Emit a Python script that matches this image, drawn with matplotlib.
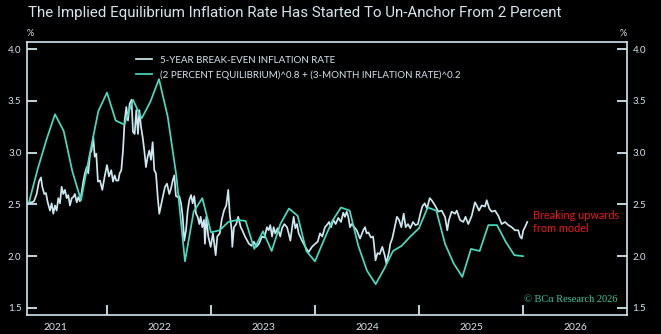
import matplotlib
matplotlib.use("Agg")
import matplotlib.pyplot as plt
from matplotlib.ticker import FixedLocator, NullFormatter, FixedFormatter
import pandas as pd

BG = "black"
FRAME = "#cfe6ee"
TXT = "#d5e6ee"
WHITE_LINE = "#cde8f0"
GREEN_LINE = "#45dcbf"
RED = "#f0141a"

# 5-year break-even inflation rate (decimal year, percent)
be_year = [
    2021.243, 2021.260, 2021.279, 2021.298, 2021.324, 2021.346, 2021.365, 2021.378,
    2021.397, 2021.413, 2021.430, 2021.452, 2021.468, 2021.484, 2021.500, 2021.516,
    2021.532, 2021.548, 2021.564, 2021.580, 2021.596, 2021.613, 2021.628, 2021.644,
    2021.661, 2021.676, 2021.692, 2021.709, 2021.724, 2021.740, 2021.757, 2021.772,
    2021.788, 2021.805, 2021.820, 2021.837, 2021.851, 2021.868, 2021.882, 2021.897,
    2021.913, 2021.933, 2021.955, 2021.978, 2022.000, 2022.019, 2022.041, 2022.058,
    2022.074, 2022.089, 2022.109, 2022.122, 2022.138, 2022.154, 2022.170, 2022.186,
    2022.202, 2022.218, 2022.236, 2022.250, 2022.266, 2022.282, 2022.298, 2022.311,
    2022.327, 2022.343, 2022.359, 2022.375, 2022.391, 2022.407, 2022.423, 2022.439,
    2022.455, 2022.471, 2022.488, 2022.503, 2022.519, 2022.536, 2022.558, 2022.577,
    2022.599, 2022.615, 2022.632, 2022.647, 2022.663, 2022.680, 2022.695, 2022.712,
    2022.728, 2022.743, 2022.760, 2022.776, 2022.791, 2022.808, 2022.824, 2022.839,
    2022.856, 2022.872, 2022.888, 2022.901, 2022.916, 2022.933, 2022.942, 2022.955,
    2022.974, 2022.997, 2023.019, 2023.045, 2023.061, 2023.084, 2023.103, 2023.125,
    2023.147, 2023.166, 2023.180, 2023.199, 2023.205, 2023.221, 2023.243, 2023.262,
    2023.286, 2023.301, 2023.327, 2023.349, 2023.365, 2023.391, 2023.413, 2023.436,
    2023.462, 2023.490, 2023.514, 2023.538, 2023.555, 2023.570, 2023.587, 2023.603,
    2023.618, 2023.641, 2023.666, 2023.683, 2023.705, 2023.731, 2023.747, 2023.763,
    2023.779, 2023.795, 2023.811, 2023.827, 2023.843, 2023.875, 2023.907, 2023.939,
    2023.971, 2024.003, 2024.026, 2024.048, 2024.070, 2024.096, 2024.122, 2024.135,
    2024.154, 2024.176, 2024.199, 2024.224, 2024.250, 2024.272, 2024.288, 2024.305,
    2024.320, 2024.337, 2024.353, 2024.378, 2024.401, 2024.433, 2024.464, 2024.481,
    2024.497, 2024.513, 2024.538, 2024.558, 2024.567, 2024.582, 2024.601, 2024.622,
    2024.647, 2024.670, 2024.686, 2024.712, 2024.724, 2024.743, 2024.766, 2024.788,
    2024.808, 2024.830, 2024.853, 2024.872, 2024.894, 2024.916, 2024.942, 2024.966,
    2024.990, 2025.013, 2025.032, 2025.055, 2025.077, 2025.103, 2025.122, 2025.154,
    2025.186, 2025.218, 2025.250, 2025.272, 2025.288, 2025.314, 2025.346, 2025.363,
    2025.394, 2025.426, 2025.447, 2025.474, 2025.507, 2025.538, 2025.555, 2025.577,
    2025.603, 2025.635, 2025.651, 2025.676, 2025.699, 2025.731, 2025.763, 2025.795,
    2025.827, 2025.859, 2025.891, 2025.923, 2025.955, 2025.971, 2025.988, 2026.003,
    2026.019, 2026.041,
]
be_rate = [
    2.51, 2.52, 2.52, 2.53, 2.60, 2.72, 2.76, 2.67,
    2.60, 2.61, 2.52, 2.44, 2.51, 2.41, 2.49, 2.44,
    2.56, 2.51, 2.67, 2.60, 2.64, 2.56, 2.59, 2.49,
    2.56, 2.57, 2.60, 2.52, 2.57, 2.53, 2.62, 2.72,
    2.80, 2.86, 2.80, 2.99, 3.02, 3.15, 2.96, 2.99,
    2.72, 2.73, 2.64, 2.77, 2.88, 2.77, 2.83, 2.72,
    2.78, 2.73, 2.73, 2.80, 2.83, 3.02, 3.31, 3.44,
    3.31, 3.47, 3.51, 3.20, 3.18, 3.41, 3.18, 3.41,
    3.25, 3.15, 3.02, 2.86, 2.96, 3.02, 2.93, 3.10,
    2.83, 2.80, 2.57, 2.41, 2.49, 2.57, 2.67, 2.70,
    2.60, 2.65, 2.73, 2.78, 2.58, 2.57, 2.58, 2.51,
    2.38, 2.15, 2.25, 2.44, 2.54, 2.59, 2.51, 2.58,
    2.41, 2.38, 2.31, 2.38, 2.28, 2.35, 2.12, 2.38,
    2.19, 2.09, 2.22, 2.01, 2.19, 2.22, 2.35, 2.44,
    2.49, 2.64, 2.41, 2.25, 2.09, 2.28, 2.31, 2.38,
    2.28, 2.25, 2.19, 2.15, 2.12, 2.10, 2.14, 2.09,
    2.12, 2.19, 2.18, 2.28, 2.25, 2.30, 2.19, 2.28,
    2.22, 2.27, 2.19, 2.27, 2.31, 2.28, 2.22, 2.15,
    2.27, 2.38, 2.27, 2.31, 2.22, 2.15, 2.09, 2.04,
    2.09, 2.12, 2.14, 2.22, 2.19, 2.28, 2.31, 2.33,
    2.28, 2.35, 2.31, 2.37, 2.33, 2.42, 2.38, 2.43,
    2.38, 2.28, 2.31, 2.28, 2.25, 2.17, 2.25, 2.28,
    2.22, 2.23, 2.18, 2.19, 2.12, 1.96, 2.03, 2.02,
    2.09, 2.01, 1.93, 2.04, 2.12, 2.17, 2.28, 2.38,
    2.35, 2.28, 2.41, 2.28, 2.31, 2.27, 2.33, 2.30,
    2.31, 2.41, 2.48, 2.51, 2.46, 2.56, 2.54, 2.49,
    2.43, 2.44, 2.38, 2.25, 2.35, 2.43, 2.41, 2.44,
    2.35, 2.33, 2.38, 2.31, 2.39, 2.52, 2.49, 2.44,
    2.49, 2.48, 2.54, 2.46, 2.43, 2.44, 2.39, 2.31,
    2.33, 2.30, 2.28, 2.25, 2.25, 2.19, 2.17, 2.25,
    2.28, 2.33,
]

# Model: (2% equilibrium)^0.8 * (3-month inflation)^0.2, monthly
model_months = pd.period_range("2021-04", "2026-01", freq="M")
model_rate = [
    2.52, 2.84, 3.12, 3.37, 3.21, 2.82, 2.54, 2.98, 3.40,
    3.58, 3.31, 3.27, 3.51, 3.33, 3.49, 3.71, 3.35, 2.78, 1.95, 2.43, 2.56,
    2.23, 2.25, 2.33, 2.35, 2.34, 2.07, 2.24, 2.05, 2.31, 2.46, 2.39, 2.05,
    1.95, 2.15, 2.34, 2.47, 2.44, 2.10, 1.86, 1.73, 1.88, 2.05, 2.10, 2.19,
    2.27, 2.47, 2.44, 2.12, 1.93, 1.80, 2.07, 2.05, 2.30, 2.30, 2.14, 2.01,
    2.00,
]
model_year = [p.year + (p.month - 1) / 12 for p in model_months]

years = [2021, 2022, 2023, 2024, 2025, 2026]
y_ticks = [1.5, 2.0, 2.5, 3.0, 3.5, 4.0]

FONT = "Lato"

fig = plt.figure(figsize=(6.61, 3.34), dpi=100, facecolor=BG)
ax = fig.add_axes([27 / 661, 19 / 334, 600 / 661, 273 / 334], facecolor=BG)

ax.plot(be_year, be_rate, color=WHITE_LINE, lw=1.25,
        label="5-YEAR BREAK-EVEN INFLATION RATE", zorder=2)
ax.plot(model_year, model_rate, color=GREEN_LINE, lw=1.25,
        label="(2 PERCENT EQUILIBRIUM)^0.8 + (3-MONTH INFLATION RATE)^0.2", zorder=3)

ax.set_xlim(2021.231, 2027.0)
ax.set_ylim(1.432, 4.068)

for s in ax.spines.values():
    s.set_color(FRAME)
    s.set_linewidth(1.2)

ax.set_yticks(y_ticks)
ax.set_yticklabels([f"{v:.1f}" for v in y_ticks])
ax.tick_params(axis="y", which="both", direction="in", length=7, width=1.3,
               color=FRAME, labelcolor=TXT, labelsize=7, left=True, right=True,
               labelleft=True, labelright=True, pad=4)
for lbl in ax.get_yticklabels():
    lbl.set_fontfamily(FONT)

ax.xaxis.set_major_locator(FixedLocator(years[1:]))
ax.xaxis.set_major_formatter(NullFormatter())
ax.xaxis.set_minor_locator(FixedLocator([y + 0.5 for y in years]))
ax.xaxis.set_minor_formatter(FixedFormatter([str(y) for y in years]))
ax.tick_params(axis="x", which="major", direction="in", length=7, width=1.3,
               color=FRAME, top=False)
ax.tick_params(axis="x", which="minor", length=0, labelcolor=TXT, labelsize=7.5,
               pad=6, top=False)
for lbl in ax.xaxis.get_minorticklabels():
    lbl.set_fontfamily(FONT)

leg = ax.legend(loc="upper left", bbox_to_anchor=(131 / 661, 1 - 51 / 334),
                bbox_transform=fig.transFigure, frameon=False, borderpad=0,
                handlelength=1.7, handletextpad=0.8, labelspacing=0.55,
                prop={"family": FONT, "size": 7})
for t in leg.get_texts():
    t.set_color(TXT)

fig.text(28 / 661, 1 - 13 / 334, "The Implied Equilibrium Inflation Rate Has Started To Un-Anchor From 2 Percent",
         color=TXT, fontsize=10.9, family="Roboto", fontstretch="condensed",
         ha="left", va="center")
fig.text(30 / 661, 1 - 33 / 334, "%", color=TXT, fontsize=6.5, family=FONT,
         ha="center", va="center")
fig.text(623 / 661, 1 - 33 / 334, "%", color=TXT, fontsize=6.5, family=FONT,
         ha="center", va="center")

fig.text(533 / 661, 1 - 222 / 334, "Breaking upwards\nfrom model", color=RED,
         fontsize=7.8, family=FONT, ha="left", va="center", linespacing=1.25)
fig.text(617 / 661, 1 - 300 / 334, "\u00a9 BC\u03b1 Research 2026", color="#3cc9a6",
         fontsize=7.5, family="Liberation Serif", ha="right", va="center")

fig.savefig("out.png", dpi=100, facecolor=BG)
